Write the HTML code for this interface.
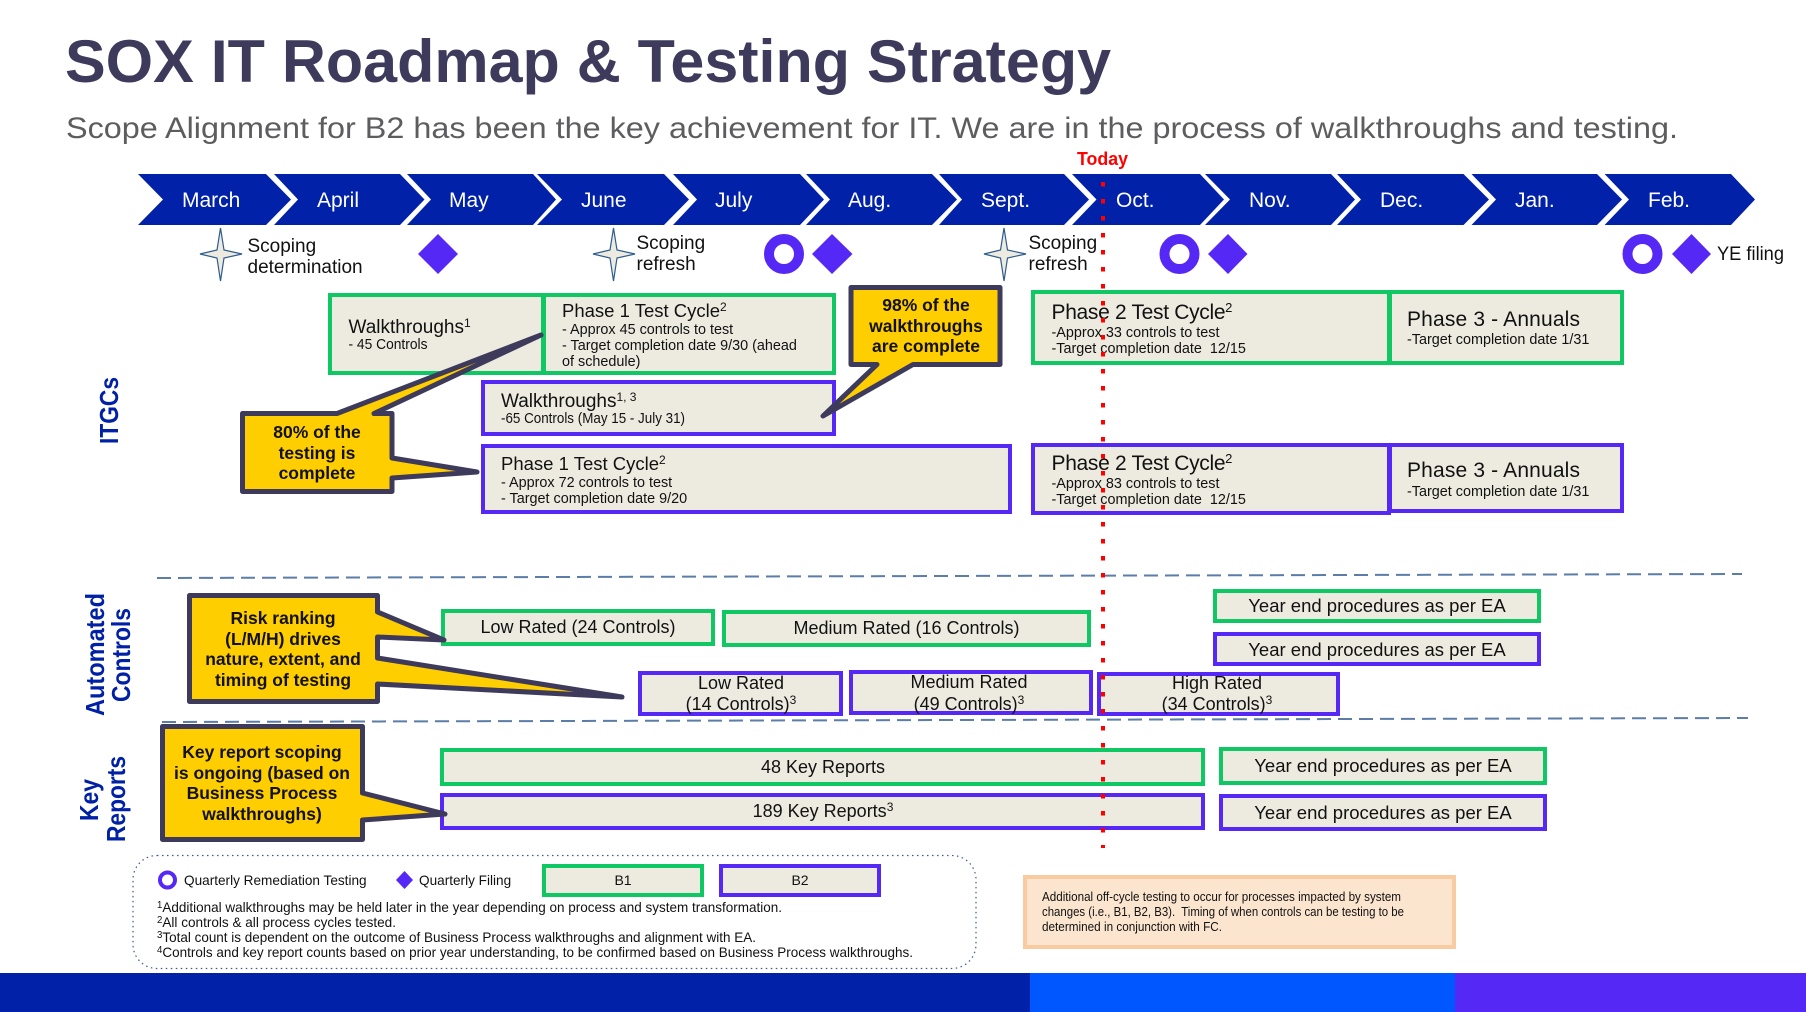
<!DOCTYPE html>
<html><head><meta charset="utf-8"><style>
html,body{margin:0;padding:0;background:#fff;width:1806px;height:1012px;overflow:hidden}
svg{display:block}
text{font-family:"Liberation Sans",sans-serif;fill:#111}
.m{fill:#fff;font-size:21px}
.h{font-size:19px}
.s{font-size:14.4px}
.c{font-size:18px;text-anchor:middle}
.ye{font-size:18.5px;text-anchor:middle}
.b{font-weight:bold;font-size:17.5px;text-anchor:middle;fill:#111}
.v{font-weight:bold;fill:#0021A5;font-size:26px}
.g{fill:#EDEBE0;stroke:#0FC864;stroke-width:4}
.p{fill:#EDEBE0;stroke:#5528F5;stroke-width:4}
.y{fill:#FFCE00;stroke:#3D3A5C;stroke-width:5;stroke-linejoin:round}
.st{fill:#EDEBE0;stroke:#2f5c8f;stroke-width:1.2}
.d{fill:#5528F5}
.r{fill:none;stroke:#5528F5;stroke-width:10}
.f{font-size:14px}
.l{font-size:13.6px}
.o{font-size:12.5px}
</style></head><body>
<svg width="1806" height="1012" viewBox="0 0 1806 1012" xmlns="http://www.w3.org/2000/svg">
<text x="65" y="82" font-size="60" font-weight="bold" style="fill:#3D3A5C" textLength="1046" lengthAdjust="spacingAndGlyphs">SOX IT Roadmap &amp; Testing Strategy</text>
<text x="66" y="138" font-size="30" style="fill:#5d5d60" textLength="1612" lengthAdjust="spacingAndGlyphs">Scope Alignment for B2 has been the key achievement for IT. We are in the process of walkthroughs and testing.</text>
<text x="1077" y="165" font-size="18" font-weight="bold" style="fill:#f00" textLength="51" lengthAdjust="spacingAndGlyphs">Today</text>

<g fill="#0021A8">
<polygon points="138,174 266,174 291,199.5 266,225 138,225 163,199.5"/>
<polygon points="274,174 400,174 424.5,199.5 400,225 274,225 298,199.5"/>
<polygon points="407,174 533,174 556,199.5 533,225 407,225 431,199.5"/>
<polygon points="537,174 664,174 689,199.5 664,225 537,225 562,199.5"/>
<polygon points="673,174 800,174 824,199.5 800,225 673,225 697,199.5"/>
<polygon points="806,174 932,174 957,199.5 932,225 806,225 830,199.5"/>
<polygon points="939,174 1064,174 1089,199.5 1064,225 939,225 962,199.5"/>
<polygon points="1072,174 1200,174 1224,199.5 1200,225 1072,225 1096.5,199.5"/>
<polygon points="1205,174 1331,174 1355,199.5 1331,225 1205,225 1230,199.5"/>
<polygon points="1337,174 1463.5,174 1489,199.5 1463.5,225 1337,225 1361,199.5"/>
<polygon points="1471.5,174 1597,174 1622,199.5 1597,225 1471.5,225 1496,199.5"/>
<polygon points="1604.6,174 1731,174 1755,199.5 1731,225 1604.6,225 1629,199.5"/>
</g>
<text class="m" x="182" y="207">March</text>
<text class="m" x="317" y="207">April</text>
<text class="m" x="449" y="207">May</text>
<text class="m" x="581" y="207">June</text>
<text class="m" x="715" y="207">July</text>
<text class="m" x="848" y="207">Aug.</text>
<text class="m" x="981" y="207">Sept.</text>
<text class="m" x="1116" y="207">Oct.</text>
<text class="m" x="1249" y="207">Nov.</text>
<text class="m" x="1380" y="207">Dec.</text>
<text class="m" x="1515" y="207">Jan.</text>
<text class="m" x="1648" y="207">Feb.</text>

<polygon class="st" points="220.5,228 224,250 242,254 224,258 220.5,281 217,258 200,254 217,250"/>
<polygon class="st" points="613.5,228 617,250 635,254 617,258 613.5,281 610,258 593,254 610,250"/>
<polygon class="st" points="1004,228 1007.5,250 1026,254 1007.5,258 1004,281 1000.5,258 984,254 1000.5,250"/>
<text class="h" x="247.5" y="252">Scoping</text>
<text class="h" x="247.5" y="273">determination</text>
<text class="h" x="636.5" y="249">Scoping</text>
<text class="h" x="636.5" y="270">refresh</text>
<text class="h" x="1028.5" y="249">Scoping</text>
<text class="h" x="1028.5" y="270">refresh</text>
<polygon class="d" points="438,234 458,254 438,274 418,254"/>
<circle class="r" cx="784" cy="254" r="15"/>
<polygon class="d" points="832,234 852.5,254 832,274 812,254"/>
<circle class="r" cx="1179.5" cy="254" r="15"/>
<polygon class="d" points="1228,234 1247.5,254 1228,274 1208,254"/>
<circle class="r" cx="1642.5" cy="254" r="15"/>
<polygon class="d" points="1691.5,234 1711,254 1691.5,274 1672,254"/>
<text class="h" x="1717" y="260" textLength="67" lengthAdjust="spacingAndGlyphs">YE filing</text>

<rect class="g" x="330" y="295" width="213" height="78"/>
<rect class="g" x="544" y="295" width="290" height="78"/>
<rect class="p" x="483" y="382" width="351" height="52"/>
<rect class="p" x="483" y="446" width="527" height="66"/>
<rect class="g" x="1033" y="292" width="356" height="71"/>
<rect class="g" x="1390" y="292" width="232" height="71"/>
<rect class="p" x="1033" y="445" width="356" height="68"/>
<rect class="p" x="1390" y="445" width="232" height="66"/>
<rect class="g" x="443" y="611" width="270" height="33"/>
<rect class="g" x="724" y="612" width="365" height="33"/>
<rect class="p" x="640" y="673" width="201" height="41"/>
<rect class="p" x="851" y="672" width="240" height="41"/>
<rect class="p" x="1099" y="674" width="239" height="40"/>
<rect class="g" x="1215" y="591" width="324" height="30"/>
<rect class="p" x="1215" y="634" width="324" height="30"/>
<rect class="g" x="442" y="750" width="761" height="34"/>
<rect class="p" x="442" y="795" width="761" height="33"/>
<rect class="g" x="1221" y="749" width="324" height="34"/>
<rect class="p" x="1221" y="796" width="324" height="33"/>

<text class="h" x="348.5" y="333">Walkthroughs<tspan font-size="12" dy="-6">1</tspan></text>
<text class="s" x="348.5" y="349" textLength="79" lengthAdjust="spacingAndGlyphs">- 45 Controls</text>
<text x="562" y="317" font-size="18.5">Phase 1 Test Cycle<tspan font-size="12" dy="-6">2</tspan></text>
<text class="s" x="562" y="334">- Approx 45 controls to test</text>
<text class="s" x="562" y="350">- Target completion date 9/30 (ahead</text>
<text class="s" x="562" y="366">of schedule)</text>
<text class="h" x="501" y="407">Walkthroughs<tspan font-size="12" dy="-6">1, 3</tspan></text>
<text class="s" x="501" y="423" textLength="184" lengthAdjust="spacingAndGlyphs">-65 Controls (May 15 - July 31)</text>
<text x="501" y="470" font-size="18.5">Phase 1 Test Cycle<tspan font-size="12" dy="-6">2</tspan></text>
<text class="s" x="501" y="487">- Approx 72 controls to test</text>
<text class="s" x="501" y="503">- Target completion date 9/20</text>

<text x="1051.5" y="319" font-size="21"><tspan textLength="174" lengthAdjust="spacing">Phase 2 Test Cycle</tspan><tspan font-size="13" dy="-7">2</tspan></text>
<text class="s" x="1051.5" y="337">-Approx 33 controls to test</text>
<text class="s" x="1051.5" y="353" xml:space="preserve">-Target completion date  12/15</text>
<text x="1407" y="326" font-size="21" textLength="173" lengthAdjust="spacing">Phase 3 - Annuals</text>
<text class="s" x="1407" y="344">-Target completion date 1/31</text>
<text x="1051.5" y="470" font-size="21"><tspan textLength="174" lengthAdjust="spacing">Phase 2 Test Cycle</tspan><tspan font-size="13" dy="-7">2</tspan></text>
<text class="s" x="1051.5" y="488">-Approx 83 controls to test</text>
<text class="s" x="1051.5" y="504" xml:space="preserve">-Target completion date  12/15</text>
<text x="1407" y="477" font-size="21" textLength="173" lengthAdjust="spacing">Phase 3 - Annuals</text>
<text class="s" x="1407" y="496">-Target completion date 1/31</text>

<text class="c" x="578" y="633">Low Rated (24 Controls)</text>
<text class="c" x="906.5" y="634">Medium Rated (16 Controls)</text>
<text class="c" x="741" y="689">Low Rated</text>
<text class="c" x="741" y="710">(14 Controls)<tspan font-size="12" dy="-6">3</tspan></text>
<text class="c" x="969" y="688">Medium Rated</text>
<text class="c" x="969" y="710">(49 Controls)<tspan font-size="12" dy="-6">3</tspan></text>
<text class="c" x="1217" y="689">High Rated</text>
<text class="c" x="1217" y="710">(34 Controls)<tspan font-size="12" dy="-6">3</tspan></text>
<text class="ye" x="1377" y="612">Year end procedures as per EA</text>
<text class="ye" x="1377" y="656">Year end procedures as per EA</text>
<text class="c" x="823" y="773">48 Key Reports</text>
<text class="c" x="823" y="817">189 Key Reports<tspan font-size="12" dy="-6">3</tspan></text>
<text class="ye" x="1383" y="772">Year end procedures as per EA</text>
<text class="ye" x="1383" y="819">Year end procedures as per EA</text>

<path class="y" d="M242.500,413.500 H337 L541,335 L374,413.500 H392 V458 L477,472 L392,478 V491.500 H242.500 Z"/>
<text class="b" x="317" y="438">80% of the</text>
<text class="b" x="317" y="459">testing is</text>
<text class="b" x="317" y="479">complete</text>

<path class="y" d="M851,287.500 H1000 V364.500 H913 L823,416 L877,364.500 H851 Z"/>
<text class="b" x="926" y="311">98% of the</text>
<text class="b" x="926" y="332">walkthroughs</text>
<text class="b" x="926" y="352">are complete</text>

<path class="y" d="M189.500,595.500 H377.500 V612 L444,640 L377.500,637 V658 L622,697 L377.500,684 V701.500 H189.500 Z"/>
<text class="b" x="283" y="624">Risk ranking</text>
<text class="b" x="283" y="645">(L/M/H) drives</text>
<text class="b" x="283" y="665">nature, extent, and</text>
<text class="b" x="283" y="686">timing of testing</text>

<path class="y" d="M162.500,726.500 H362.500 V793 L445,814 L362.500,820 V839.500 H162.500 Z"/>
<text class="b" x="262" y="758">Key report scoping</text>
<text class="b" x="262" y="779">is ongoing (based on</text>
<text class="b" x="262" y="799">Business Process</text>
<text class="b" x="262" y="820">walkthroughs)</text>

<text class="v" transform="translate(118,444) rotate(-90)" textLength="67" lengthAdjust="spacingAndGlyphs">ITGCs</text>
<text class="v" transform="translate(104,716) rotate(-90)" textLength="123" lengthAdjust="spacingAndGlyphs">Automated</text>
<text class="v" transform="translate(130,702) rotate(-90)" textLength="94" lengthAdjust="spacingAndGlyphs">Controls</text>
<text class="v" transform="translate(98,821) rotate(-90)" textLength="42" lengthAdjust="spacingAndGlyphs">Key</text>
<text class="v" transform="translate(125,842) rotate(-90)" textLength="86" lengthAdjust="spacingAndGlyphs">Reports</text>

<line x1="157" y1="578" x2="1742" y2="574" stroke="#5B7DA8" stroke-width="2" stroke-dasharray="14 7"/>
<line x1="162" y1="722" x2="1748" y2="718" stroke="#5B7DA8" stroke-width="2" stroke-dasharray="14 7"/>

<rect x="133" y="855.500" width="843" height="113" rx="24" ry="24" fill="none" stroke="#3c5a8c" stroke-width="1.2" stroke-dasharray="1.500 3.500"/>
<circle cx="167.500" cy="880" r="7.500" fill="none" stroke="#5528F5" stroke-width="4"/>
<text class="l" x="184" y="885">Quarterly Remediation Testing</text>
<polygon class="d" points="404.500,871 413,880 404.500,889 396,880"/>
<text class="l" x="419" y="885">Quarterly Filing</text>
<rect class="g" x="544" y="866" width="158" height="29"/>
<rect class="p" x="721" y="866" width="158" height="29"/>
<text class="f" x="623" y="885" text-anchor="middle">B1</text>
<text class="f" x="800" y="885" text-anchor="middle">B2</text>
<text class="f" x="157" y="912" textLength="625" lengthAdjust="spacingAndGlyphs"><tspan font-size="10" dy="-4">1</tspan><tspan dy="4">Additional walkthroughs may be held later in the year depending on process and system transformation.</tspan></text>
<text class="f" x="157" y="927" textLength="239" lengthAdjust="spacingAndGlyphs"><tspan font-size="10" dy="-4">2</tspan><tspan dy="4">All controls &amp; all process cycles tested.</tspan></text>
<text class="f" x="157" y="942" textLength="599" lengthAdjust="spacingAndGlyphs"><tspan font-size="10" dy="-4">3</tspan><tspan dy="4">Total count is dependent on the outcome of Business Process walkthroughs and alignment with EA.</tspan></text>
<text class="f" x="157" y="957" textLength="756" lengthAdjust="spacingAndGlyphs"><tspan font-size="10" dy="-4">4</tspan><tspan dy="4">Controls and key report counts based on prior year understanding, to be confirmed based on Business Process walkthroughs.</tspan></text>

<rect x="1025" y="877" width="429" height="70" fill="#FBE5CF" stroke="#F9CBA0" stroke-width="4"/>
<text class="o" x="1042" y="901" textLength="359" lengthAdjust="spacingAndGlyphs">Additional off-cycle testing to occur for processes impacted by system</text>
<text class="o" x="1042" y="916" textLength="362" lengthAdjust="spacingAndGlyphs" xml:space="preserve">changes (i.e., B1, B2, B3).  Timing of when controls can be testing to be</text>
<text class="o" x="1042" y="931" textLength="180" lengthAdjust="spacingAndGlyphs">determined in conjunction with FC.</text>

<line x1="1103" y1="182" x2="1103" y2="848" stroke="#f00" stroke-width="4" stroke-dasharray="4.500 12.500"/>

<rect x="0" y="973" width="1030" height="39" fill="#0021A8"/>
<rect x="1030" y="973" width="425" height="39" fill="#0057FF"/>
<rect x="1455" y="973" width="351" height="39" fill="#5528F5"/>
</svg>
</body></html>
